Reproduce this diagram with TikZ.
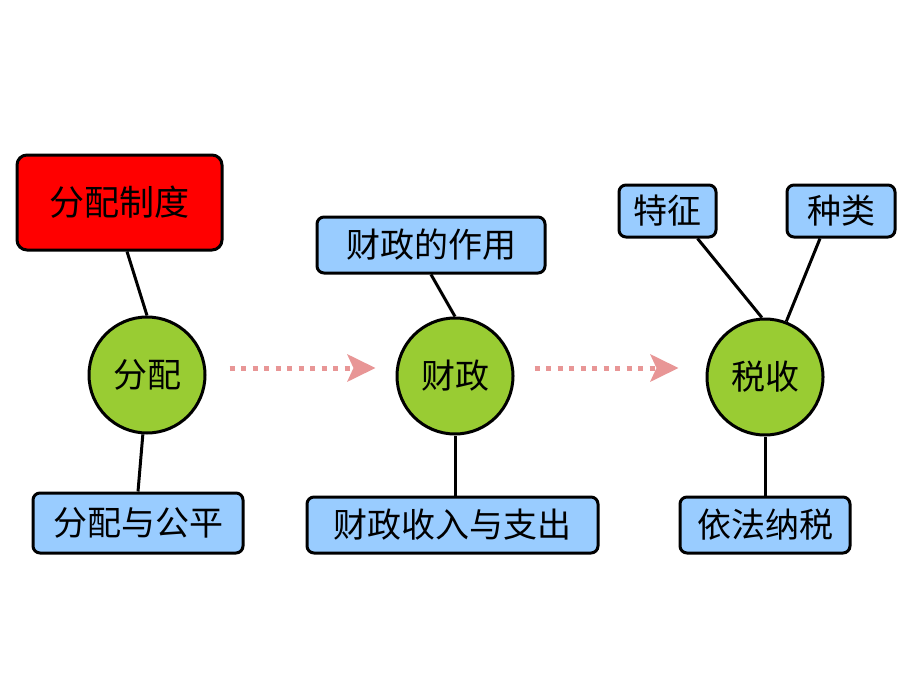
\documentclass[tikz,border=0pt]{standalone}
\usepackage{fontspec}
\setmainfont{Noto Sans CJK SC}
\usetikzlibrary{arrows.meta}
\definecolor{boxblue}{RGB}{153,204,255}
\definecolor{circgreen}{RGB}{153,204,51}
\definecolor{arrowpink}{RGB}{232,150,150}
\begin{document}
\begin{tikzpicture}[x=1pt,y=-1pt,
  topicbox/.style={draw=black, line width=3pt, rounded corners=7pt, fill=boxblue,
    inner sep=0pt, font=\fontsize{34}{38}\selectfont},
  redbox/.style={topicbox, fill=red, rounded corners=10pt, font=\fontsize{35}{40}\selectfont},
  hub/.style={circle, draw=black, line width=3pt, fill=circgreen, minimum size=116pt,
    inner sep=0pt, font=\fontsize{34}{38}\selectfont},
  link/.style={line width=3pt, black},
  flow/.style={line width=5pt, arrowpink, dash pattern=on 5pt off 6.5pt,
    -{Stealth[length=28pt, width=27pt, inset=6pt]}}]
\useasboundingbox (0,0) rectangle (920,690);
\fill[white] (0,0) rectangle (920,690);
% hubs
\node[hub] (c1) at (147,375) {分配};
\node[hub] (c2) at (455,376) {财政};
\node[hub] (c3) at (765,377) {税收};
% boxes
\node[redbox, minimum width=205pt, minimum height=95pt] (r1) at (119.5,202.5) {分配制度};
\node[topicbox, minimum width=210pt, minimum height=60pt] (b1) at (138,523) {分配与公平};
\node[topicbox, minimum width=228pt, minimum height=56pt] (f1) at (431,245) {财政的作用};
\node[topicbox, minimum width=291pt, minimum height=56pt] (f2) at (452.5,525) {财政收入与支出};
\node[topicbox, minimum width=97pt, minimum height=52pt] (t1) at (667.5,211) {特征};
\node[topicbox, minimum width=108pt, minimum height=52pt] (t2) at (841,211) {种类};
\node[topicbox, minimum width=170pt, minimum height=56pt] (t3) at (765,525) {依法纳税};
% links
\draw[link] ([xshift=7.5pt]r1.south) -- (c1.north);
\draw[link] (c1.266) -- (b1.north);
\draw[link] (f1.south) -- (c2.north);
\draw[link] (c2.south) -- (c2.south |- f2.north);
\draw[link] ([xshift=30pt]t1.south) -- (c3.93);
\draw[link] ([xshift=-21pt]t2.south) -- (c3.69);
\draw[link] (c3.south) -- (t3.north);
% flow arrows
\draw[flow, shorten <=23pt, shorten >=20pt] ([yshift=7pt]c1.east) -- ([yshift=8pt]c2.west);
\draw[flow, shorten <=20pt, shorten >=27pt] ([yshift=8pt]c2.east) -- ([yshift=9pt]c3.west);
\end{tikzpicture}
\end{document}
